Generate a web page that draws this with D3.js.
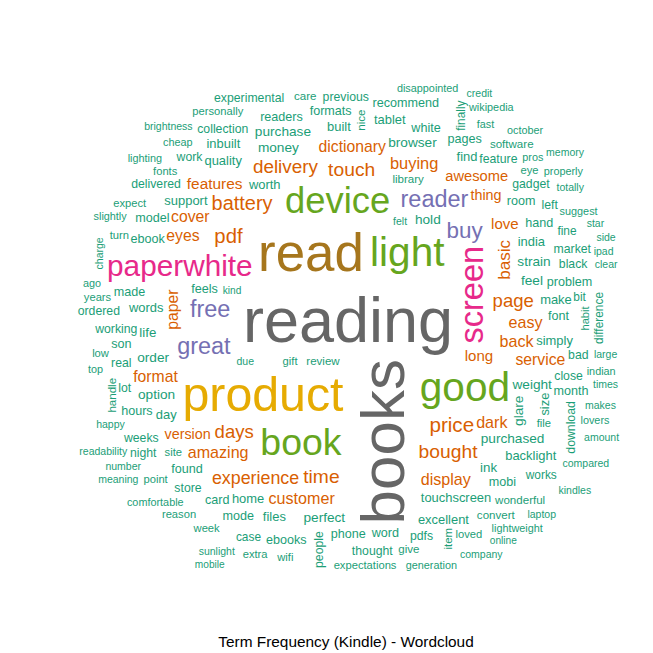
<!DOCTYPE html>
<html>
<head>
<meta charset="utf-8">
<script src="https://cdn.jsdelivr.net/npm/d3@7"></script>
<style>
	body { margin: 0; background: #fff; }
	text { font-family: 'Liberation Sans', Arial, sans-serif; }
</style>
</head>
<body>
<div id="cloud"></div>
<script>
// term frequencies (relative)
const terms = [
	'reading', 'books', 'read', 'product', 'light', 'good', 'book', 'device',
	'screen', 'paperwhite', 'great', 'free', 'reader', 'buy',
	'price', 'pdf', 'battery', 'bought', 'time', 'touch', 'delivery', 'days',
	'page', 'experience', 'basic', 'buying', 'easy', 'back', 'customer', 'dark',
	'display', 'amazing', 'dictionary', 'paper', 'eyes', 'format', 'cover',
	'service', 'features', 'long', 'love', 'awesome', 'thing', 'version',
	'purchased', 'weight', 'browser', 'strain', 'feel', 'money', 'option',
	'order', 'perfect', 'glare', 'hold', 'purchase', 'life', 'ink',
	'support', 'touchscreen', 'worth', 'words', 'india', 'day', 'make', 'home',
	'built', 'simply', 'quality', 'size', 'tablet', 'find', 'files', 'excellent',
	'inbuilt', 'backlight',
	'room', 'font', 'feels', 'phone', 'ebook', 'hand', 'found', 'problem',
	'word', 'made', 'mobi', 'readers', 'ebooks', 'hours', 'formats', 'recommend',
	'son', 'pages', 'mode', 'model', 'white', 'card', 'month',
	'previous', 'gadget', 'weeks', 'working', 'feature', 'close', 'market',
	'pdfs', 'lot', 'thought', 'collection', 'real', 'people', 'work', 'ordered',
	'delivered', 'experimental', 'black', 'store', 'left', 'bad', 'download',
	'night',
	'difference', 'fine', 'bit', 'works', 'case', 'finally',
	'nice', 'review', 'wonderful', 'give', 'software', 'convert', 'handle',
	'care', 'item', 'library',
	'loved', 'expect', 'fonts', 'personally', 'gift', 'expectations', 'file',
	'site', 'wifi', 'low', 'extra', 'point', 'turn', 'week', 'years', 'reason',
	'eye', 'habit',
	'slightly', 'cheap', 'fast', 'ago', 'suggest', 'october', 'disappointed',
	'pros', 'properly', 'generation', 'lighting', 'top', 'comfortable',
	'wikipedia', 'lovers', 'indian', 'lightweight',
	'brightness', 'due', 'totally', 'large', 'happy', 'times', 'compared',
	'charge', 'number', 'company', 'sunlight', 'felt', 'star', 'memory',
	'laptop', 'ipad', 'credit', 'meaning', 'makes', 'amount', 'readability',
	'kindles', 'side', 'clear',
	'mobile', 'online', 'kind'
];

const counts = [
	160, 157, 131, 118, 96, 96, 87, 84,
	73, 65, 47, 47, 47, 44,
	39, 38, 37, 35, 35, 35, 34, 33,
	33, 31, 29, 27, 26, 26, 26, 26,
	26, 26, 25, 25, 25, 25, 25,
	25, 24, 23, 23, 22, 21, 21,
	19, 19, 19, 19, 19, 19, 19,
	19, 19, 19, 19, 19, 18, 18,
	17, 17, 17, 17, 17, 17, 17, 17,
	17, 17, 17, 17, 17, 17, 17, 17,
	17, 17,
	16, 16, 16, 16, 16, 16, 16, 16,
	16, 16, 16, 16, 16, 16, 16, 16,
	16, 16, 16, 16, 16, 16, 16,
	15, 15, 15, 15, 15, 15, 15,
	15, 15, 15, 15, 15, 15, 15, 15,
	15, 15, 15, 15, 15, 15, 15,
	15,
	14, 14, 14, 14, 14, 14,
	13, 13, 13, 13, 13, 13, 13,
	13, 13, 13,
	12, 12, 12, 12, 12, 12, 12,
	12, 12, 12, 12, 12, 12, 12, 12, 12,
	12, 12,
	11, 11, 11, 11, 11, 11, 11,
	11, 11, 11, 11, 11, 11,
	11, 11, 11, 11,
	10, 10, 10, 10, 10, 10, 10,
	10, 10, 10, 10, 10, 10, 10,
	10, 10, 10, 10, 10, 10, 10,
	10, 10, 10,
	9, 9, 9
];

// terms drawn bottom-to-top
const verticalTerms = [
	'books', 'screen', 'basic', 'paper', 'charge', 'size', 'difference',
	'nice', 'handle', 'glare', 'item', 'people', 'finally', 'download', 'habit'
];

const title = 'Term Frequency (Kindle) - Wordcloud';

//Plot
const width = 653;
const height = 653;

const svg = d3
	.select('#cloud')
	.append('svg')
	.attr('width', width)
	.attr('height', height);

const maxCount = d3.max(counts);
const sizeScale = d3.scaleLinear().domain([0, maxCount]).range([7, 63]);
const colorScale = d3
	.scaleQuantize()
	.domain([0, maxCount])
	.range(d3.schemeDark2);

const words = d3.sort(
	terms.map((term, i) => ({
		term,
		count: counts[i],
		vertical: verticalTerms.includes(term),
	})),
	(a, b) => d3.descending(a.count, b.count)
);

// spiral layout, each word starts at the centre and walks outwards
const ctx = document.createElement('canvas').getContext('2d');
const cx = 348;
const cy = 325;
const ux = 440;
const uy = 416;
const rStep = 0.05;
const pad = 0.75;
// plot region; the whole page is only used if a word finds no room inside it
const plotArea = { x0: 76, y0: 80, x1: 620, y1: 572 };
const pageArea = { x0: 4, y0: 4, x1: 649, y1: 615 };
const placed = [];

const overlaps = (a, b) =>
	a.x0 < b.x1 && b.x0 < a.x1 && a.y0 < b.y1 && b.y0 < a.y1;
const inside = (b, area) =>
	b.x0 > area.x0 && b.y0 > area.y0 && b.x1 < area.x1 && b.y1 < area.y1;

function place(d, i, area, lx0, lx1, ly0, ly1) {
	let theta = (i * 2.39996) % (Math.PI * 2);
	let r = 0;
	for (let step = 0; step < 12000; step++) {
		const x = cx + r * Math.cos(theta) * ux;
		const y = cy + r * Math.sin(theta) * uy;
		const box = { x0: x + lx0, y0: y + ly0, x1: x + lx1, y1: y + ly1 };
		if (inside(box, area) && !placed.some((b) => overlaps(b, box))) {
			d.x = x;
			d.y = y;
			placed.push(box);
			return true;
		}
		theta += 0.1;
		r += (rStep * 0.1) / (Math.PI * 2);
	}
	return false;
}

words.forEach((d, i) => {
	d.size = sizeScale(d.count);
	ctx.font = `${d.size}px "Liberation Sans"`;
	const m = ctx.measureText(d.term);
	d.shift = (m.actualBoundingBoxAscent - m.actualBoundingBoxDescent) / 2;
	// text box around the centre, using the font's ascent / descent
	const asc = m.fontBoundingBoxAscent || d.size * 0.905;
	const desc = m.fontBoundingBoxDescent || d.size * 0.212;
	let lx0 = -m.width / 2 - pad;
	let lx1 = m.width / 2 + pad;
	let ly0 = d.shift - asc;
	let ly1 = d.shift + desc;
	if (d.vertical) [lx0, lx1, ly0, ly1] = [ly0, ly1, -lx1, -lx0];

	if (!place(d, i, plotArea, lx0, lx1, ly0, ly1)) {
		place(d, i, pageArea, lx0, lx1, ly0, ly1);
	}
});

svg.selectAll('.word')
	.data(words.filter((d) => d.x !== undefined))
	.join('text')
	.attr('class', 'word')
	.attr('transform', (d) => `translate(${d.x},${d.y})` + (d.vertical ? ' rotate(-90)' : ''))
	.attr('text-anchor', 'middle')
	.attr('y', (d) => d.shift)
	.attr('font-size', (d) => d.size)
	.attr('fill', (d) => colorScale(d.count))
	.text((d) => d.term);

svg.append('text')
	.attr('x', 346)
	.attr('y', 647)
	.attr('text-anchor', 'middle')
	.attr('font-size', 15.4)
	.attr('fill', '#000')
	.text(title);
</script>
</body>
</html>
